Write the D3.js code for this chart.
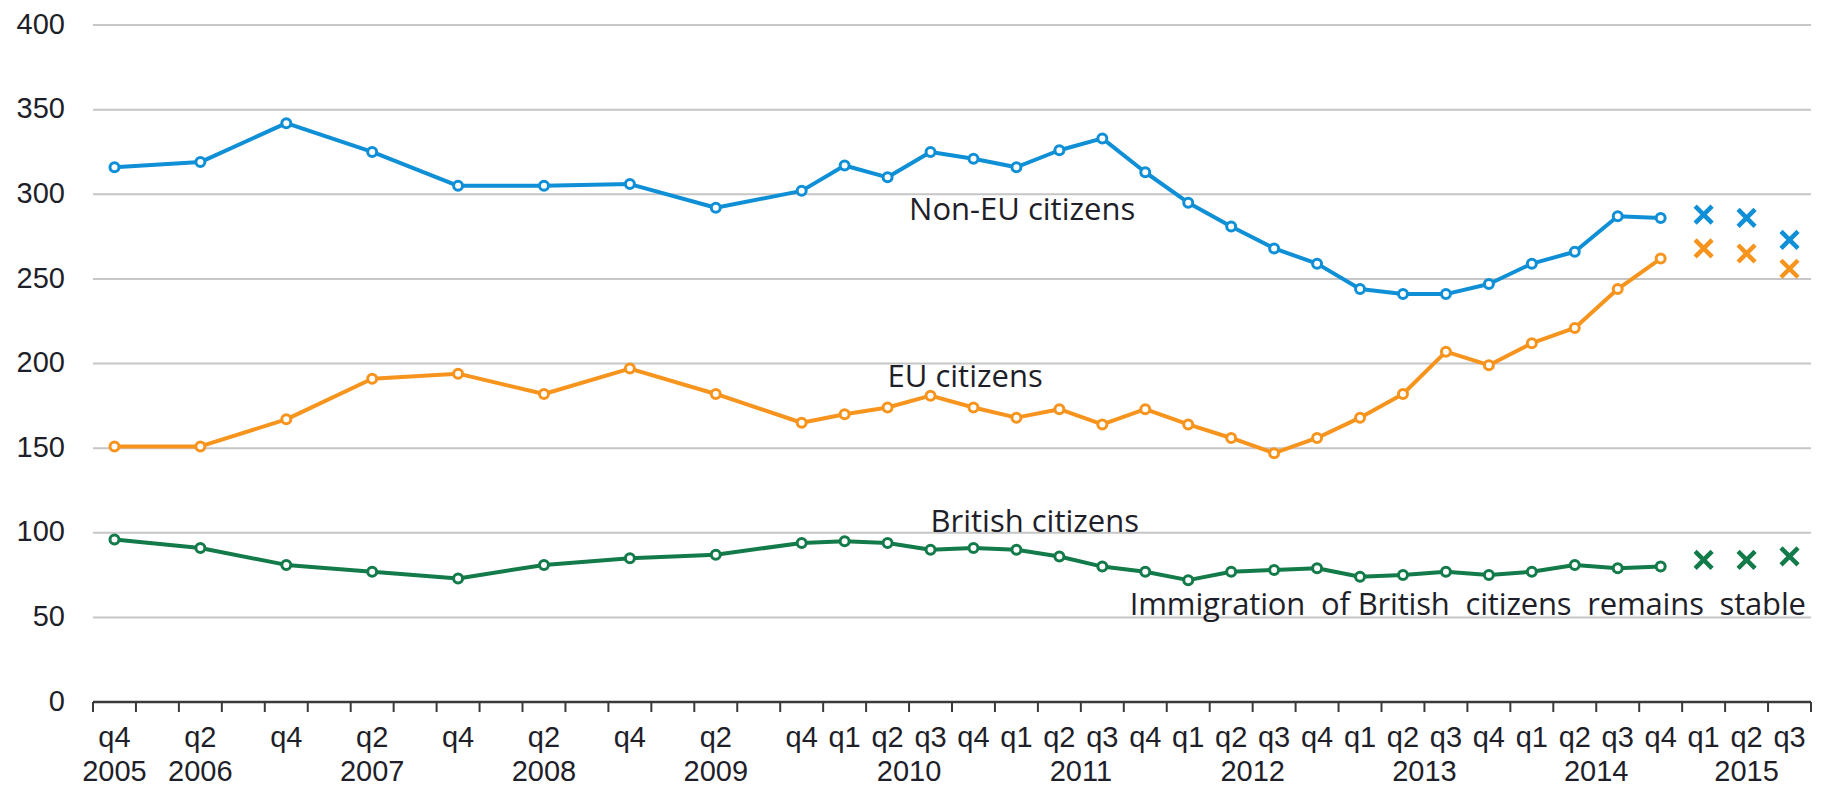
<!DOCTYPE html>
<html>
<head>
<meta charset="utf-8">
<script src="https://cdn.jsdelivr.net/npm/d3@7"></script>
<style>
  body { margin: 0; background: #fff; }
  .tick-label { font-family: 'Liberation Sans', Arial, sans-serif; font-size: 29px; fill: #1f1f2a; }
  .note { font-family: 'Open Sans', sans-serif; font-size: 31px; fill: #1f1f2a; }
</style>
</head>
<body>
<svg id="chart"></svg>
<script>
'use strict';

const width = 1827;
const height = 786;

// quarters on the x axis, oldest first
const quarters = [
    '2005 q4',
    '2006 q1', '2006 q2', '2006 q3', '2006 q4',
    '2007 q1', '2007 q2', '2007 q3', '2007 q4',
    '2008 q1', '2008 q2', '2008 q3', '2008 q4',
    '2009 q1', '2009 q2', '2009 q3', '2009 q4',
    '2010 q1', '2010 q2', '2010 q3', '2010 q4',
    '2011 q1', '2011 q2', '2011 q3', '2011 q4',
    '2012 q1', '2012 q2', '2012 q3', '2012 q4',
    '2013 q1', '2013 q2', '2013 q3', '2013 q4',
    '2014 q1', '2014 q2', '2014 q3', '2014 q4',
    '2015 q1', '2015 q2', '2015 q3'
];

// quarters that get a "qN" label
const labelledQuarters = [
    '2005 q4', '2006 q2', '2006 q4', '2007 q2', '2007 q4', '2008 q2', '2008 q4', '2009 q2', '2009 q4',
    '2010 q1', '2010 q2', '2010 q3', '2010 q4',
    '2011 q1', '2011 q2', '2011 q3', '2011 q4',
    '2012 q1', '2012 q2', '2012 q3', '2012 q4',
    '2013 q1', '2013 q2', '2013 q3', '2013 q4',
    '2014 q1', '2014 q2', '2014 q3', '2014 q4',
    '2015 q1', '2015 q2', '2015 q3'
];

// year labels and the quarters they sit under (first, last)
const years = ['2005', '2006', '2007', '2008', '2009', '2010', '2011', '2012', '2013', '2014', '2015'];
const yearSpans = [
    ['2005 q4', '2005 q4'], ['2006 q2', '2006 q2'], ['2007 q2', '2007 q2'], ['2008 q2', '2008 q2'],
    ['2009 q2', '2009 q2'], ['2010 q1', '2010 q4'], ['2011 q1', '2011 q4'], ['2012 q1', '2012 q4'],
    ['2013 q1', '2013 q4'], ['2014 q1', '2014 q4'], ['2015 q1', '2015 q3']
];

const yTicks = [0, 50, 100, 150, 200, 250, 300, 350, 400];

// thousands, one per quarter (null = no estimate)
const nonEu = [316, null, 319, null, 342, null, 325, null, 305, null, 305, null, 306, null, 292, null,
    302, 317, 310, 325, 321, 316, 326, 333, 313, 295, 281, 268, 259, 244, 241, 241, 247, 259, 266, 287, 286,
    null, null, null];
const eu = [151, null, 151, null, 167, null, 191, null, 194, null, 182, null, 197, null, 182, null,
    165, 170, 174, 181, 174, 168, 173, 164, 173, 164, 156, 147, 156, 168, 182, 207, 199, 212, 221, 244, 262,
    null, null, null];
const british = [96, null, 91, null, 81, null, 77, null, 73, null, 81, null, 85, null, 87, null,
    94, 95, 94, 90, 91, 90, 86, 80, 77, 72, 77, 78, 79, 74, 75, 77, 75, 77, 81, 79, 80,
    null, null, null];

// provisional estimates shown as crosses
const provisionalQuarters = ['2015 q1', '2015 q2', '2015 q3'];
const nonEuProvisional = [288, 286, 273];
const euProvisional = [268, 265, 256];
const britishProvisional = [84, 84, 86];

const colors = { nonEu: '#0f8fd6', eu: '#f7941e', british: '#137a4a' };

const svg = d3.select('#chart').attr('width', width).attr('height', height);

const x = d3.scaleBand().domain(quarters).range([93, 1811]);
const y = d3.scaleLinear().domain([0, 400]).range([702, 25]);
const cx = q => x(q) + x.bandwidth() / 2;

// gridlines
svg.append('g')
    .selectAll('line')
    .data(yTicks.filter(t => t > 0))
    .join('line')
    .attr('x1', x.range()[0])
    .attr('x2', x.range()[1])
    .attr('y1', d => y(d))
    .attr('y2', d => y(d))
    .attr('stroke', '#c6c6c6')
    .attr('stroke-width', 2);

// y labels
svg.append('g')
    .selectAll('text')
    .data(yTicks)
    .join('text')
    .attr('class', 'tick-label')
    .attr('x', 65)
    .attr('y', d => y(d))
    .attr('dy', '0.3em')
    .attr('text-anchor', 'end')
    .text(d => d);

// x axis line and boundary ticks
const xAxis = svg.append('g');
xAxis.append('line')
    .attr('x1', x.range()[0]).attr('x2', x.range()[1])
    .attr('y1', y(0)).attr('y2', y(0))
    .attr('stroke', '#3a3a3a').attr('stroke-width', 2.5);
xAxis.selectAll('line.tick')
    .data(quarters.map(q => x(q)).concat([x.range()[1]]))
    .join('line')
    .attr('class', 'tick')
    .attr('x1', d => d).attr('x2', d => d)
    .attr('y1', y(0)).attr('y2', y(0) + 10)
    .attr('stroke', '#3a3a3a').attr('stroke-width', 2);

xAxis.selectAll('text.q')
    .data(labelledQuarters)
    .join('text')
    .attr('class', 'tick-label q')
    .attr('x', d => cx(d))
    .attr('y', 747)
    .attr('text-anchor', 'middle')
    .text(d => d.split(' ')[1]);

xAxis.selectAll('text.year')
    .data(years)
    .join('text')
    .attr('class', 'tick-label year')
    .attr('x', (d, i) => (cx(yearSpans[i][0]) + cx(yearSpans[i][1])) / 2)
    .attr('y', 781)
    .attr('text-anchor', 'middle')
    .text(d => d);

function drawSeries(values, provisional, color) {
    const points = quarters.map((q, i) => ({ q, v: values[i] })).filter(d => d.v != null);
    const line = d3.line().x(d => cx(d.q)).y(d => y(d.v));

    svg.append('path')
        .datum(points)
        .attr('d', line)
        .attr('fill', 'none')
        .attr('stroke', color)
        .attr('stroke-width', 4)
        .attr('stroke-linejoin', 'round');

    svg.append('g')
        .selectAll('circle')
        .data(points)
        .join('circle')
        .attr('cx', d => cx(d.q))
        .attr('cy', d => y(d.v))
        .attr('r', 4.5)
        .attr('fill', '#fff')
        .attr('stroke', color)
        .attr('stroke-width', 3);

    const crosses = provisionalQuarters.map((q, i) => ({ q, v: provisional[i] }));
    const arm = 8.5;
    svg.append('g')
        .selectAll('path')
        .data(crosses)
        .join('path')
        .attr('d', d => {
            const px = cx(d.q), py = y(d.v);
            return `M${px - arm},${py - arm}L${px + arm},${py + arm}M${px - arm},${py + arm}L${px + arm},${py - arm}`;
        })
        .attr('stroke', color)
        .attr('stroke-width', 4.5);
}

drawSeries(nonEu, nonEuProvisional, colors.nonEu);
drawSeries(eu, euProvisional, colors.eu);
drawSeries(british, britishProvisional, colors.british);

// annotations
svg.append('text').attr('class', 'note')
    .attr('x', x('2010 q3')).attr('y', y(285))
    .text('Non-EU citizens');
svg.append('text').attr('class', 'note')
    .attr('x', cx('2010 q2')).attr('y', y(186))
    .text('EU citizens');
svg.append('text').attr('class', 'note')
    .attr('x', cx('2010 q3')).attr('y', y(100) - 1)
    .text('British citizens');

const stableStart = x('2011 q4') + 6;
const stableEnd = x.range()[1] - 5;
svg.append('text').attr('class', 'note')
    .attr('x', stableStart).attr('y', y(50) - 2)
    .attr('xml:space', 'preserve')
    .style('white-space', 'pre')
    .attr('textLength', stableEnd - stableStart)
    .attr('lengthAdjust', 'spacing')
    .text('Immigration  of British  citizens  remains  stable');
</script>
</body>
</html>
